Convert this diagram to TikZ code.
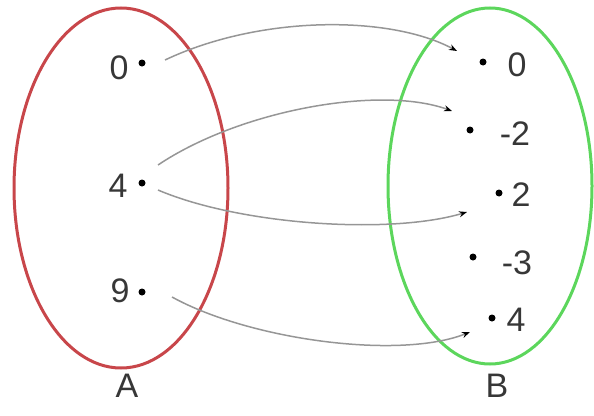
\documentclass[tikz,border=0pt]{standalone}
\usepackage{fontspec}
\setmainfont{Liberation Sans}
\usetikzlibrary{arrows.meta}
\definecolor{setred}{RGB}{200,70,74}
\definecolor{setgreen}{RGB}{92,214,92}
\definecolor{txt}{RGB}{55,55,55}
\definecolor{conn}{RGB}{150,150,150}
\tikzset{
  lbl/.style={text=txt,font=\fontsize{34}{38}\selectfont,inner sep=0pt},
  dotnode/.style={circle,fill=black,inner sep=0pt,minimum size=7pt},
  setline/.style={line width=3pt},
  mapline/.style={draw=conn,line width=1.5pt,-{Stealth[length=8pt,width=6pt,color=black]}}
}
\begin{document}
\begin{tikzpicture}[x=1pt,y=-1pt]
\useasboundingbox (0,0) rectangle (594,415);
% sets
\draw[setline,draw=setred] (121,188) ellipse [x radius=107,y radius=180];
\draw[setline,draw=setgreen] (490,186) ellipse [x radius=102,y radius=178];
\node[lbl] (A) at (127,386) {A};
\node[lbl] (B) at (497,386) {B};
% left elements
\node[lbl] (l0) at (119,68) {0};
\node[dotnode] (ld0) at (142,63) {};
\node[lbl] (l4) at (118,186) {4};
\node[dotnode] (ld4) at (142,183) {};
\node[lbl] (l9) at (120,291) {9};
\node[dotnode] (ld9) at (142,292) {};
% right elements
\node[dotnode] (rd0) at (483,62) {};
\node[lbl] (r0) at (517,65) {0};
\node[dotnode] (rdm2) at (470,130) {};
\node[lbl] (rm2) at (515,134) {-2};
\node[dotnode] (rd2) at (499,193) {};
\node[lbl] (r2) at (521,195) {2};
\node[dotnode] (rdm3) at (473,257) {};
\node[lbl] (rm3) at (517,263) {-3};
\node[dotnode] (rd4) at (492,318) {};
\node[lbl] (r4) at (516,320) {4};
% connector ends
\coordinate (s0) at (165,60);
\coordinate (e0) at (457,51);
\coordinate (s4a) at (158,165);
\coordinate (e4a) at (452,111);
\coordinate (s4b) at (158,190);
\coordinate (e4b) at (467,212);
\coordinate (s9) at (172,297);
\coordinate (e9) at (470,332);
% mappings
\draw[mapline] (s0) .. controls (260,15) and (390,15) .. (e0);
\draw[mapline] (s4a) .. controls (240,110) and (380,85) .. (e4a);
\draw[mapline] (s4b) .. controls (240,225) and (390,235) .. (e4b);
\draw[mapline] (s9) .. controls (250,340) and (400,360) .. (e9);
\end{tikzpicture}
\end{document}
